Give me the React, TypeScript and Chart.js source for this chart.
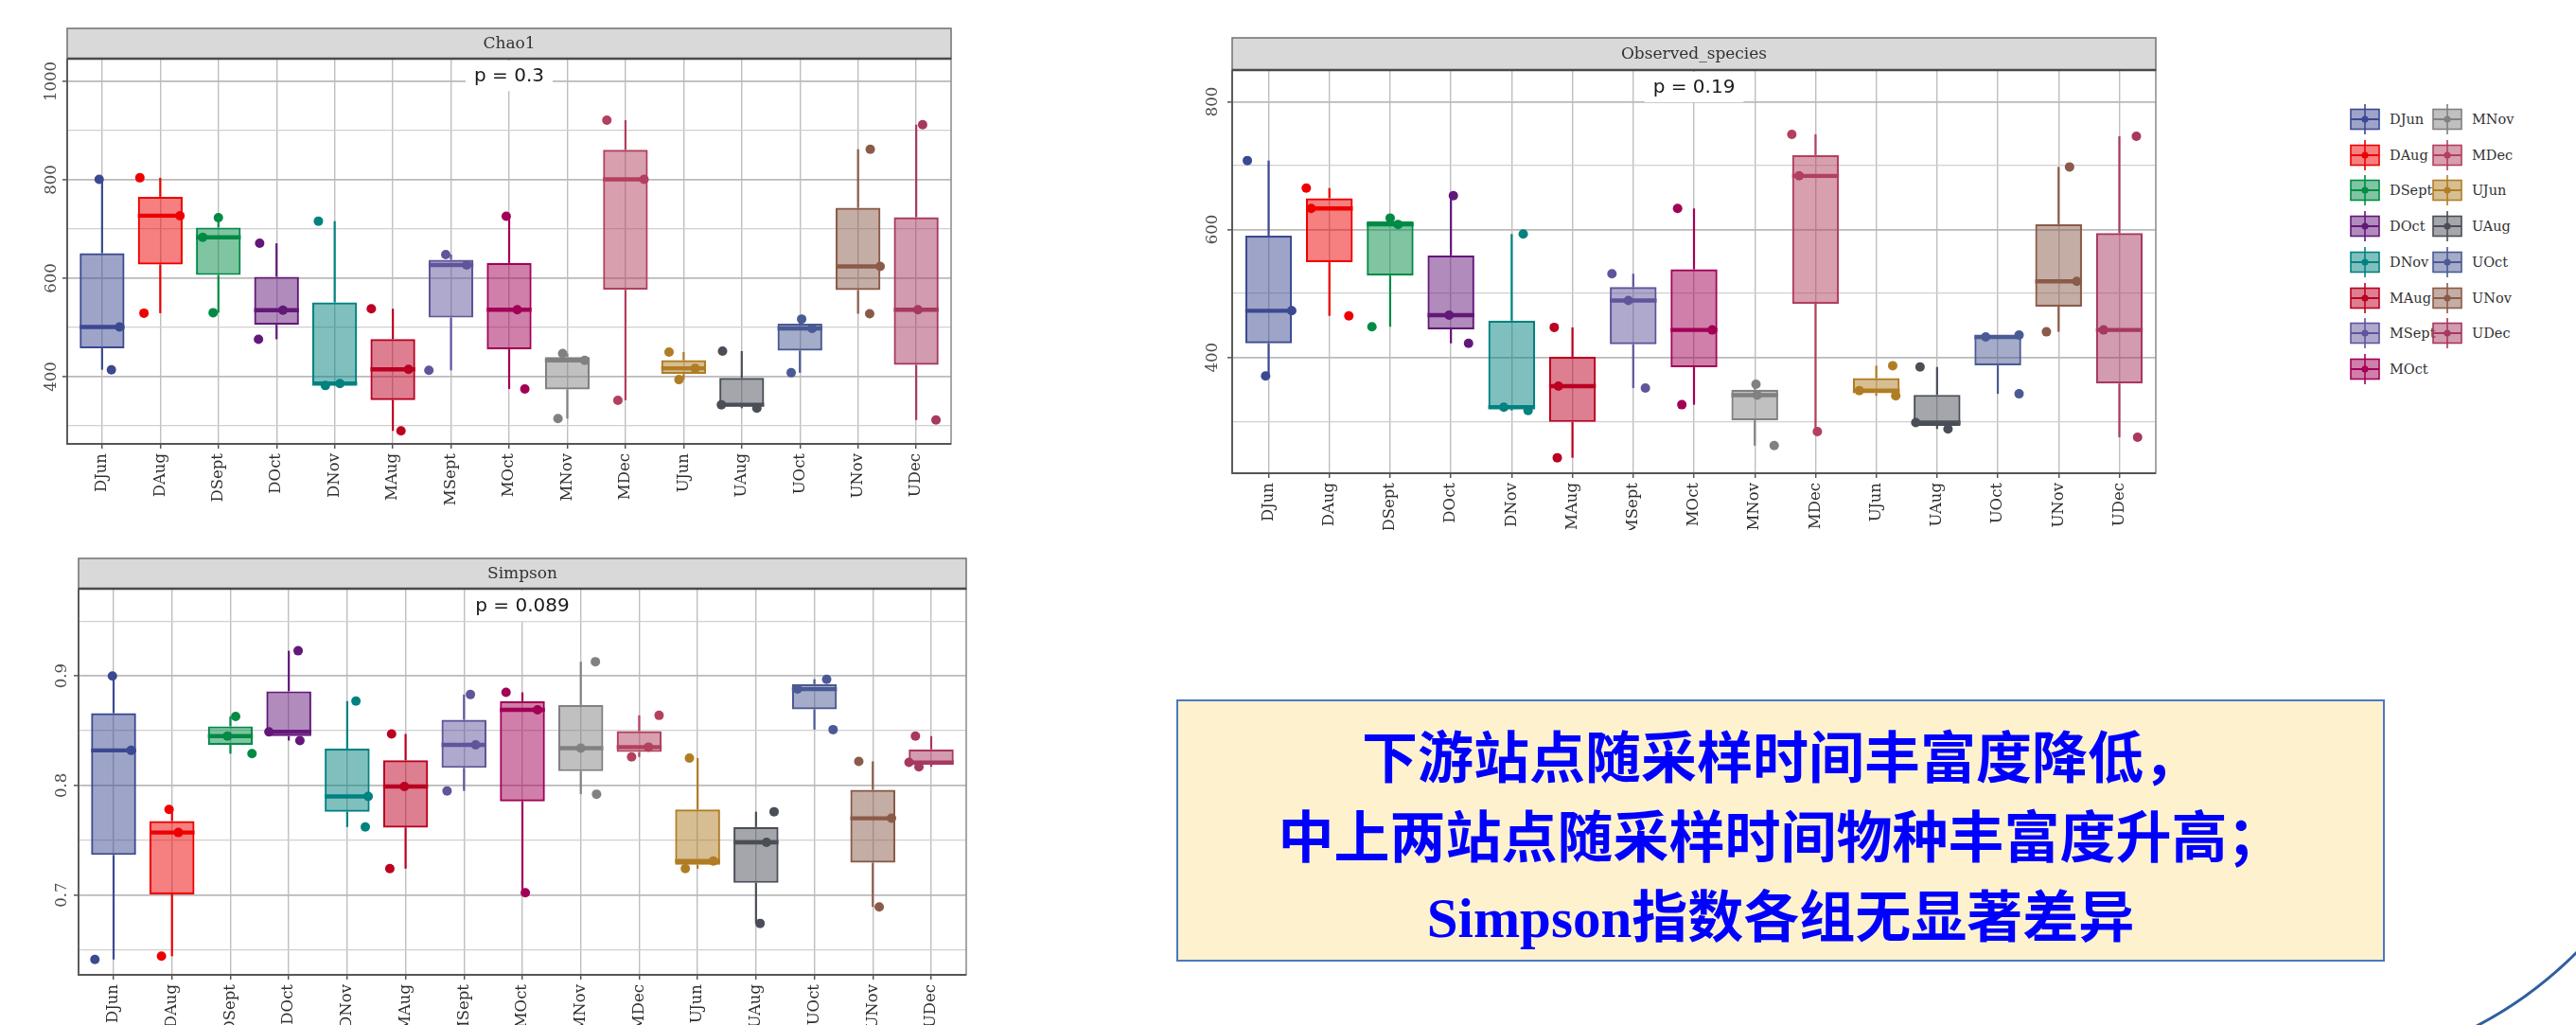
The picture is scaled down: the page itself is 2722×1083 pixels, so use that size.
import React, { useEffect, useRef } from "react";
import { Chart, registerables } from "chart.js";

Chart.register(...registerables);

// Sampling groups: D = downstream, M = midstream, U = upstream station, then month
const groups = ["DJun", "DAug", "DSept", "DOct", "DNov", "MAug", "MSept", "MOct", "MNov", "MDec", "UJun", "UAug", "UOct", "UNov", "UDec"];

const groupColors = [
  "#3B4992", "#EE0000", "#008B45", "#631879", "#008280",
  "#BB0021", "#5F559B", "#A20056", "#808180", "#B2405E",
  "#B07D25", "#4A4E57", "#4A5A94", "#8A5B49", "#A7385F",
];

// Chao1 estimator, three replicates per group
const chao1Values = [
  [801, 414, 501], [804, 529, 727], [723, 530, 683], [671, 476, 535], [716, 386, 382],
  [538, 290, 415], [413, 648, 627], [726, 375, 536], [315, 447, 433], [921, 352, 801],
  [450, 394, 417], [452, 343, 336], [517, 408, 498], [862, 528, 624], [912, 312, 536],
];
const chao1Jitter = [
  [-0.05, 0.16, 0.3], [-0.35, -0.28, 0.34], [0.0, -0.09, -0.27], [-0.29, -0.31, 0.11], [-0.28, 0.09, -0.16],
  [-0.37, 0.14, 0.27], [-0.38, -0.09, 0.27], [-0.05, 0.27, 0.14], [-0.16, -0.08, 0.3], [-0.32, -0.13, 0.32],
  [-0.25, -0.08, 0.2], [-0.33, -0.35, 0.26], [0.03, -0.15, 0.21], [0.21, 0.2, 0.38], [0.11, 0.34, 0.03],
];
const chao1MajorTicks = [400, 600, 800, 1000];
const chao1MinorTicks = [300, 500, 700, 900];
const chao1TickLabels = ["400", "600", "800", "1000"];

// Observed species counts
const observedValues = [
  [708, 371, 473], [665, 465, 633], [618, 448, 608], [653, 422, 466], [593, 322, 317],
  [447, 243, 355], [531, 352, 489], [633, 326, 443], [358, 262, 341], [749, 284, 684],
  [387, 348, 340], [385, 288, 298], [343, 432, 435], [698, 440, 519], [746, 275, 443],
];
const observedJitter = [
  [-0.35, -0.05, 0.38], [-0.38, 0.32, -0.3], [0.0, -0.3, 0.13], [0.04, 0.29, -0.03], [0.19, -0.13, 0.27],
  [-0.3, -0.25, -0.23], [-0.35, 0.2, -0.08], [-0.27, -0.2, 0.3], [0.02, 0.32, 0.04], [-0.39, 0.03, -0.27],
  [0.27, -0.28, 0.32], [-0.28, 0.18, -0.35], [0.35, -0.2, 0.35], [0.18, -0.2, 0.3], [0.28, 0.3, -0.26],
];
const observedMajorTicks = [400, 600, 800];
const observedMinorTicks = [300, 500, 700];
const observedTickLabels = ["400", "600", "800"];

// Simpson diversity index
const simpsonValues = [
  [0.9, 0.641, 0.832], [0.778, 0.644, 0.757], [0.863, 0.829, 0.845], [0.923, 0.841, 0.849], [0.877, 0.762, 0.79],
  [0.847, 0.724, 0.799], [0.883, 0.795, 0.837], [0.885, 0.702, 0.869], [0.913, 0.792, 0.834], [0.864, 0.826, 0.835],
  [0.825, 0.724, 0.731], [0.776, 0.674, 0.748], [0.897, 0.851, 0.888], [0.822, 0.689, 0.77], [0.845, 0.817, 0.821],
];
const simpsonJitter = [
  [-0.02, -0.32, 0.3], [-0.05, -0.18, 0.11], [0.09, 0.37, -0.05], [0.16, 0.19, -0.34], [0.15, 0.31, 0.36],
  [-0.24, -0.27, -0.02], [0.11, -0.29, 0.2], [-0.28, 0.05, 0.26], [0.25, 0.27, 0.0], [0.34, -0.13, 0.16],
  [-0.14, -0.21, 0.27], [0.31, 0.07, 0.18], [0.21, 0.32, -0.29], [-0.24, 0.11, 0.32], [-0.27, -0.21, -0.38],
];
const simpsonMajorTicks = [0.7, 0.8, 0.9];
const simpsonMinorTicks = [0.65, 0.75, 0.85, 0.95];
const simpsonTickLabels = ["0.7", "0.8", "0.9"];

const summaryLines = [
  ["下游站点随采样时间丰富度降低，"],
  ["中上两站点随采样时间物种丰富度升高；"],
  ["Simpson", "指数各组无显著差异"],
];

const BOX_WIDTH = 0.77;

function quantile(sorted: number[], p: number) {
  const h = (sorted.length - 1) * p;
  const lo = Math.floor(h);
  const hi = Math.ceil(h);
  return sorted[lo] + (h - lo) * (sorted[hi] - sorted[lo]);
}

function boxStats(vals: number[]) {
  const s = [...vals].sort((a, b) => a - b);
  const q1 = quantile(s, 0.25);
  const med = quantile(s, 0.5);
  const q3 = quantile(s, 0.75);
  const iqr = q3 - q1;
  const lo = Math.min(...s.filter((v) => v >= q1 - 1.5 * iqr));
  const hi = Math.max(...s.filter((v) => v <= q3 + 1.5 * iqr));
  return { q1, med, q3, lo, hi };
}

type Area = { left: number; right: number; top: number; bottom: number };

type PanelProps = {
  title: string;
  values: number[][];
  jitter: number[][];
  yMin: number;
  yMax: number;
  majorTicks: number[];
  minorTicks: number[];
  tickLabels: string[];
  pText: string;
  pY: number;
  left: number;
  top: number;
  width: number;
  height: number;
  area: Area;
  stripTop: number;
  yLabelGap: number;
};

function BoxPanel(props: PanelProps) {
  const ref = useRef<HTMLCanvasElement | null>(null);

  useEffect(() => {
    const p = props;
    const stats = p.values.map(boxStats);
    const fills = groupColors.map((c) => c + "80");
    const pointData: { x: number; y: number }[] = [];
    const pointColors: string[] = [];
    p.values.forEach((vals, i) => {
      vals.forEach((v, k) => {
        pointData.push({ x: i + 1 + p.jitter[i][k], y: v });
        pointColors.push(groupColors[i]);
      });
    });
    const yTickValues = [...p.minorTicks, ...p.majorTicks].sort((a, b) => a - b);
    const isMajor = (v: number) => p.majorTicks.includes(v);
    const halfBox = (chart: any) => {
      const x = chart.scales.x;
      return (Math.abs(x.getPixelForValue(2) - x.getPixelForValue(1)) * BOX_WIDTH) / 2;
    };

    const decor = {
      id: "panelDecor",
      afterDatasetsDraw(chart: any) {
        const { ctx, scales } = chart;
        const px = scales.x.getPixelForValue((groups.length + 1) / 2);
        const py = scales.y.getPixelForValue(p.pY);
        ctx.save();
        ctx.font = '20px "DejaVu Sans", sans-serif';
        const w = ctx.measureText(p.pText).width;
        ctx.fillStyle = "#ffffff";
        ctx.fillRect(px - w / 2 - 9, py - 16, w + 18, 32);
        ctx.fillStyle = "#1a1a1a";
        ctx.textAlign = "center";
        ctx.textBaseline = "middle";
        ctx.fillText(p.pText, px, py + 1);
        ctx.restore();
      },
      afterDraw(chart: any) {
        const { ctx, chartArea: a, scales } = chart;
        ctx.save();
        // panel frame
        ctx.strokeStyle = "#8a8a8a";
        ctx.lineWidth = 1.5;
        ctx.strokeRect(a.left, a.top, a.right - a.left, a.bottom - a.top);
        ctx.strokeStyle = "#555555";
        ctx.lineWidth = 1.8;
        ctx.beginPath();
        ctx.moveTo(a.left, a.top);
        ctx.lineTo(a.left, a.bottom);
        ctx.lineTo(a.right, a.bottom);
        ctx.stroke();
        // facet strip
        ctx.fillStyle = "#d9d9d9";
        ctx.fillRect(a.left, p.stripTop, a.right - a.left, a.top - p.stripTop);
        ctx.strokeStyle = "#707070";
        ctx.lineWidth = 1.5;
        ctx.strokeRect(a.left, p.stripTop, a.right - a.left, a.top - p.stripTop);
        ctx.strokeStyle = "#4a4a4a";
        ctx.lineWidth = 2.5;
        ctx.beginPath();
        ctx.moveTo(a.left, a.top);
        ctx.lineTo(a.right, a.top);
        ctx.stroke();
        ctx.fillStyle = "#333333";
        ctx.font = '17px "DejaVu Serif", serif';
        ctx.textAlign = "center";
        ctx.textBaseline = "middle";
        ctx.fillText(p.title, (a.left + a.right) / 2, (p.stripTop + a.top) / 2 + 1);
        // rotated y tick labels
        ctx.fillStyle = "#4d4d4d";
        ctx.font = '16.5px "DejaVu Serif", serif';
        p.majorTicks.forEach((v, i) => {
          const yy = scales.y.getPixelForValue(v);
          ctx.save();
          ctx.translate(a.left - p.yLabelGap, yy);
          ctx.rotate(-Math.PI / 2);
          ctx.fillText(p.tickLabels[i], 0, 0);
          ctx.restore();
        });
        ctx.restore();
      },
    };

    const chart = new Chart(ref.current as HTMLCanvasElement, {
      type: "bar",
      data: {
        datasets: [
          {
            type: "scatter",
            label: "samples",
            data: pointData,
            pointRadius: 5,
            pointBackgroundColor: pointColors,
            pointBorderColor: pointColors,
            pointBorderWidth: 0,
            order: 0,
          } as any,
          {
            type: "scatter",
            label: "median",
            data: stats.map((s, i) => ({ x: i + 1, y: s.med })),
            pointStyle: "line",
            pointRadius: (ctx: any) => halfBox(ctx.chart),
            pointBorderColor: groupColors,
            pointBackgroundColor: groupColors,
            pointBorderWidth: 4.4,
            order: 1,
          },
          {
            type: "bar",
            label: "box",
            data: stats.map((s, i) => ({ x: i + 1, y: [s.q1, s.q3] })),
            backgroundColor: fills,
            borderColor: groupColors,
            borderWidth: 2.2,
            borderSkipped: false,
            grouped: false,
            barPercentage: BOX_WIDTH,
            categoryPercentage: 1,
            order: 2,
          },
          {
            type: "bar",
            label: "upper whisker",
            data: stats.map((s, i) => ({ x: i + 1, y: [s.q3, s.hi] })),
            backgroundColor: groupColors,
            borderWidth: 0,
            grouped: false,
            maxBarThickness: 2.2,
            order: 3,
          },
          {
            type: "bar",
            label: "lower whisker",
            data: stats.map((s, i) => ({ x: i + 1, y: [s.lo, s.q1] })),
            backgroundColor: groupColors,
            borderWidth: 0,
            grouped: false,
            maxBarThickness: 2.2,
            order: 4,
          },
        ] as any,
      },
      options: {
        responsive: false,
        animation: false,
        events: [],
        layout: { padding: { top: p.area.top, right: p.width - p.area.right, left: 0, bottom: 0 } },
        plugins: { legend: { display: false }, tooltip: { enabled: false }, title: { display: false } },
        scales: {
          x: {
            type: "linear",
            min: 0.4,
            max: groups.length + 0.6,
            offset: false,
            afterBuildTicks: (s: any) => {
              s.ticks = groups.map((_, i) => ({ value: i + 1 }));
            },
            afterFit: (s: any) => {
              s.height = p.height - p.area.bottom;
              s.paddingLeft = 0;
              s.paddingRight = 0;
            },
            ticks: {
              autoSkip: false,
              minRotation: 90,
              maxRotation: 90,
              padding: 5,
              color: "#2e2e2e",
              font: { family: '"DejaVu Serif", serif', size: 16.5 },
              callback: (v: any) => groups[Math.round(Number(v)) - 1] ?? "",
            },
            grid: { offset: false, color: "#bfbfbf", lineWidth: 1.4, tickColor: "#555555", tickLength: 5, tickWidth: 1.5 },
            border: { display: false },
          },
          y: {
            type: "linear",
            min: p.yMin,
            max: p.yMax,
            beginAtZero: false,
            afterBuildTicks: (s: any) => {
              s.ticks = yTickValues.map((v) => ({ value: v }));
            },
            afterFit: (s: any) => {
              s.width = p.area.left;
              s.paddingTop = 0;
              s.paddingBottom = 0;
            },
            ticks: { display: false },
            grid: {
              color: (c: any) => (isMajor(c.tick?.value) ? "#bababa" : "#d0d0d0"),
              lineWidth: (c: any) => (isMajor(c.tick?.value) ? 1.7 : 1.3),
              tickColor: (c: any) => (isMajor(c.tick?.value) ? "#555555" : "rgba(0,0,0,0)"),
              tickLength: 5,
              tickWidth: 1.5,
            },
            border: { display: false },
          },
        } as any,
      },
      plugins: [decor],
    });
    return () => chart.destroy();
  }, []);

  return (
    <canvas
      ref={ref}
      width={props.width}
      height={props.height}
      style={{ position: "absolute", left: props.left, top: props.top, width: props.width, height: props.height }}
    />
  );
}

function LegendKey({ color }: { color: string }) {
  return (
    <svg width={34} height={34} style={{ display: "block" }}>
      <line x1={17} y1={1} x2={17} y2={33} stroke={color} strokeWidth={1.6} />
      <rect x={2} y={6.5} width={30} height={21} fill={color + "80"} stroke={color} strokeWidth={1.6} />
      <line x1={2} y1={17} x2={32} y2={17} stroke={color} strokeWidth={2} />
      <circle cx={17} cy={17} r={3.6} fill={color} />
    </svg>
  );
}

function GroupLegend() {
  return (
    <>
      {groups.map((g, i) => {
        const col = Math.floor(i / 8);
        const row = i % 8;
        const cx = col === 0 ? 2499 : 2586;
        const cy = 126 + row * 37.7;
        return (
          <div key={g} style={{ position: "absolute", left: cx - 17, top: cy - 17, height: 34, display: "flex", alignItems: "center" }}>
            <LegendKey color={groupColors[i]} />
            <span
              style={{
                marginLeft: 9,
                font: '14.5px "DejaVu Serif", serif',
                color: "#333333",
                whiteSpace: "nowrap",
              }}
            >
              {g}
            </span>
          </div>
        );
      })}
    </>
  );
}

function SummaryBox() {
  return (
    <div
      style={{
        position: "absolute",
        left: 1243,
        top: 739,
        width: 1277,
        height: 277,
        boxSizing: "border-box",
        border: "2.5px solid #4a78c6",
        background: "#fef1cd",
        paddingTop: 14,
        textAlign: "center",
        color: "#0000ff",
        fontWeight: 700,
        fontSize: 59,
        lineHeight: "84px",
        fontFamily: '"Noto Sans CJK SC", "Noto Sans", sans-serif',
      }}
    >
      {summaryLines.map((parts, i) => (
        <div key={i} style={{ whiteSpace: "nowrap" }}>
          {parts.length > 1 ? (
            <>
              <span style={{ fontFamily: '"Liberation Serif", "Times New Roman", serif' }}>{parts[0]}</span>
              {parts[1]}
            </>
          ) : (
            parts[0]
          )}
        </div>
      ))}
    </div>
  );
}

export default function App() {
  return (
    <div style={{ position: "fixed", left: 0, top: 0, width: 2722, height: 1083, overflow: "hidden", background: "#ffffff" }}>
      <BoxPanel
        title="Chao1"
        values={chao1Values}
        jitter={chao1Jitter}
        yMin={263.5}
        yMax={1046}
        majorTicks={chao1MajorTicks}
        minorTicks={chao1MinorTicks}
        tickLabels={chao1TickLabels}
        pText="p = 0.3"
        pY={1011}
        left={0}
        top={0}
        width={1030}
        height={560}
        area={{ left: 71, right: 1005, top: 62, bottom: 469 }}
        stripTop={30}
        yLabelGap={16}
      />
      <BoxPanel
        title="Observed_species"
        values={observedValues}
        jitter={observedJitter}
        yMin={218.8}
        yMax={849.6}
        majorTicks={observedMajorTicks}
        minorTicks={observedMinorTicks}
        tickLabels={observedTickLabels}
        pText="p = 0.19"
        pY={823}
        left={1230}
        top={0}
        width={1080}
        height={560}
        area={{ left: 72, right: 1048, top: 74, bottom: 500 }}
        stripTop={40}
        yLabelGap={20}
      />
      <BoxPanel
        title="Simpson"
        values={simpsonValues}
        jitter={simpsonJitter}
        yMin={0.627}
        yMax={0.9797}
        majorTicks={simpsonMajorTicks}
        minorTicks={simpsonMinorTicks}
        tickLabels={simpsonTickLabels}
        pText="p = 0.089"
        pY={0.964}
        left={0}
        top={560}
        width={1040}
        height={523}
        area={{ left: 83, right: 1021, top: 62, bottom: 470 }}
        stripTop={30}
        yLabelGap={17}
      />
      <GroupLegend />
      <SummaryBox />
      <svg style={{ position: "absolute", left: 2560, top: 980, width: 162, height: 103 }}>
        <path d="M 57 104 Q 115 74 163 26" stroke="#2f5f9f" strokeWidth={3} fill="none" />
      </svg>
    </div>
  );
}
